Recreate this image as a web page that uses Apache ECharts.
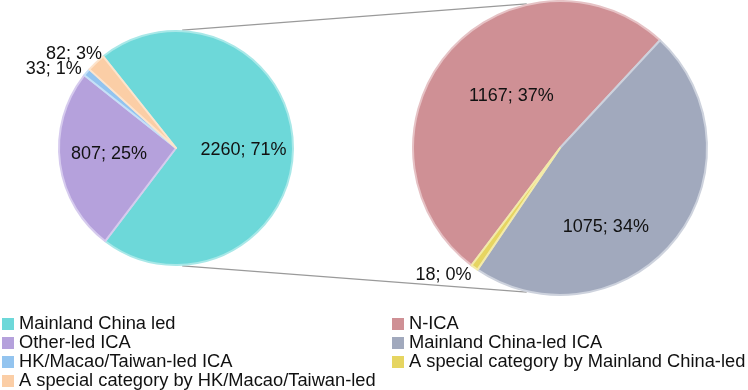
<!DOCTYPE html>
<html>
<head>
<meta charset="utf-8">
<script src="https://cdn.jsdelivr.net/npm/echarts@6/dist/echarts.min.js"></script>
<style>html,body{margin:0;padding:0;background:#fff}#c{width:748px;height:390px}</style>
</head>
<body>
<div id="c"></div>
<script>
// ---- data ----
const leftNames = ['Mainland China led', 'Other-led ICA', 'HK/Macao/Taiwan-led ICA', 'A special category by HK/Macao/Taiwan-led'];
const leftValues = [2260, 807, 33, 82];
const leftPct = [71, 25, 1, 3];
const rightNames = ['N-ICA', 'Mainland China-led ICA', 'A special category by Mainland China-led'];
const rightValues = [1167, 1075, 18];
const rightPct = [37, 34, 0];

// ---- styles ----
const leftColors = ['#6dd8d9', '#b5a1dc', '#93c4ef', '#fbcea6'];
const leftBorders = ['#a8e8e8', '#d6cbee', '#c6e0f7', '#fde4cc'];
const rightColors = ['#cf9095', '#a1a9bd', '#e6d561'];
const rightBorders = ['#e6c2c5', '#cdd2dd', '#f3eaa8'];
const leftOutside = [false, false, true, true];
const rightOutside = [false, false, true];
const leftLabelShift = [[6, 3], [-6, -2], [-5, -3], [6, -9]];
const rightLabelShift = [[10, -3], [-14, 31], [-3, 7]];

const L = {cx: 176, cy: 148, r: 117, start: 128.5};
const R = {cx: 560, cy: 148, r: 147, start: 233};
const FONT = "'Liberation Sans', Arial, Helvetica, sans-serif";

function buildData(names, values, pct, colors, borders, outside) {
  return names.map((n, i) => ({
    name: n,
    value: values[i],
    pct: pct[i],
    itemStyle: {color: colors[i], borderColor: borders[i], borderWidth: 2},
    label: outside[i] ? {position: 'outside', distanceToLabelLine: 0} : {position: 'inside'},
    labelLine: {show: false, length: 0, length2: 0}
  }));
}

function makePie(P, names, values, pct, colors, borders, outside, shifts) {
  return {
    type: 'pie',
    center: [P.cx, P.cy],
    radius: [0, P.r],
    startAngle: P.start,
    clockwise: true,
    avoidLabelOverlap: false,
    animation: false,
    emphasis: {disabled: true},
    data: buildData(names, values, pct, colors, borders, outside),
    label: {
      show: true,
      color: '#111',
      fontFamily: FONT,
      fontSize: 18,
      formatter: p => p.value + '; ' + p.data.pct + '%'
    },
    labelLine: {show: false, length: 0, length2: 0},
    labelLayout: params => ({dx: shifts[params.dataIndex][0], dy: shifts[params.dataIndex][1]})
  };
}

// connector lines (from left pie top/bottom to right pie)
const topAngleL = 87 * Math.PI / 180, botAngleL = -87 * Math.PI / 180;
const topAngleR = 103 * Math.PI / 180, botAngleR = -103 * Math.PI / 180;
function pt(P, a, rr) { return [P.cx + rr * Math.cos(a), P.cy - rr * Math.sin(a)]; }
const t1 = pt(L, topAngleL, L.r + 1), t2 = pt(R, topAngleR, R.r + 1);
const b1 = pt(L, botAngleL, L.r + 1), b2 = pt(R, botAngleR, R.r + 1);

const legendCommon = {
  orient: 'vertical',
  top: 310,
  height: 120,
  icon: 'rect',
  itemWidth: 12,
  itemHeight: 12,
  itemGap: 1,
  selectedMode: false,
  itemStyle: {borderWidth: 0},
  textStyle: {fontFamily: FONT, fontSize: 18.3, color: '#111', lineHeight: 16}
};

const chart = echarts.init(document.getElementById('c'), null, {renderer: 'canvas'});
chart.setOption({
  backgroundColor: '#fff',
  animation: false,
  legend: [
    Object.assign({}, legendCommon, {left: -3, data: leftNames}),
    Object.assign({}, legendCommon, {left: 387, data: rightNames})
  ],
  graphic: [
    {type: 'line', z: 0, shape: {x1: t1[0], y1: t1[1], x2: t2[0], y2: t2[1]}, style: {stroke: '#9a9a9a', lineWidth: 1.3}},
    {type: 'line', z: 0, shape: {x1: b1[0], y1: b1[1], x2: b2[0], y2: b2[1]}, style: {stroke: '#9a9a9a', lineWidth: 1.3}}
  ],
  series: [
    makePie(L, leftNames, leftValues, leftPct, leftColors, leftBorders, leftOutside, leftLabelShift),
    makePie(R, rightNames, rightValues, rightPct, rightColors, rightBorders, rightOutside, rightLabelShift)
  ]
});
</script>
</body>
</html>
